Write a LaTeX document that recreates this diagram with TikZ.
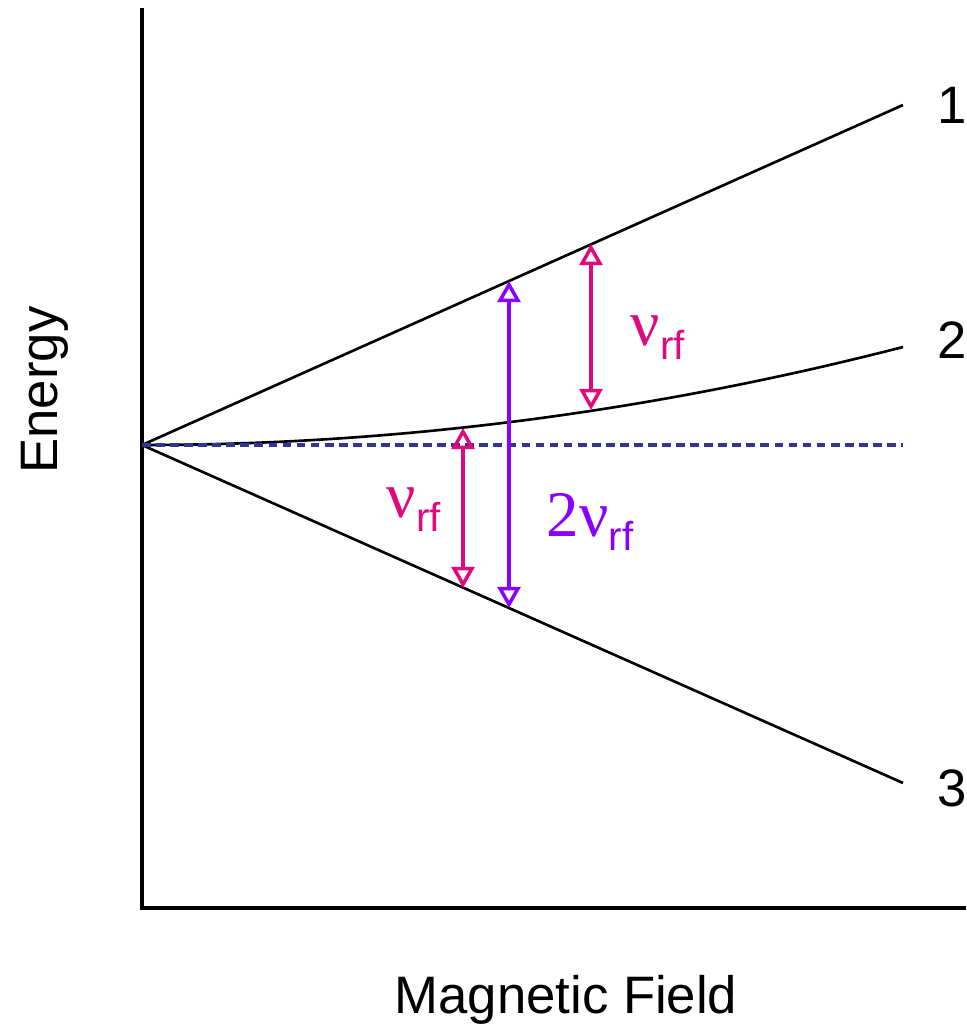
\documentclass[tikz,border=0pt]{standalone}
\usepackage{fontspec}
\setmainfont{Liberation Sans}
\newfontfamily\seriffont{Liberation Serif}
\usetikzlibrary{arrows.meta}
\definecolor{rfpink}{HTML}{E0087F}
\definecolor{rfpurple}{HTML}{8A00FF}
\definecolor{zeroblue}{HTML}{333399}
\newcommand{\nusym}{{\fontsize{37}{37}\seriffont ν}}
\newcommand{\rfsub}{\raisebox{-8pt}{\fontsize{23}{23}\selectfont rf}}
\tikzset{
  level/.style={line width=1.5pt},
  trans/.style={line width=2.6pt, {Triangle[open,length=12pt,width=13pt,line width=2pt]}-{Triangle[open,length=12pt,width=13pt,line width=2pt]}},
  lab/.style={font=\fontsize{30}{30}\selectfont}
}
\begin{document}
\begin{tikzpicture}[x=0.02cm, y=-0.02cm]
		\useasboundingbox (0,0) rectangle (966,1033);
		% 坐标轴
		\draw[line width=2.2pt] (142,8) -- (142,908) -- (966,908);
		\coordinate (o) at (142,445);
		% 三条能级
		\draw[level] (o) -- (903,105);
		\draw[level] (o) .. controls (395.7,445) and (649.3,412.3) .. (903,347);
		\draw[level] (o) -- (903,783);
		% 零场虚线
		\draw[zeroblue, line width=2.2pt, dash pattern=on 5pt off 3pt] (o) -- (903,445);
		% 跃迁
		\coordinate (a1) at (591,244);
		\coordinate (a2) at (591,410);
		\coordinate (b1) at (509,281);
		\coordinate (b2) at (509,608);
		\coordinate (c1) at (463,428);
		\coordinate (c2) at (463,588);
		\draw[trans, rfpink] (a1) -- (a2);
		\draw[trans, rfpurple] (b1) -- (b2);
		\draw[trans, rfpink] (c1) -- (c2);
		% 标注
		\node[rfpink] (nu1) at (658,338) {\nusym\rfsub};
		\node[rfpink] (nu2) at (414,510) {\nusym\rfsub};
		\node[rfpurple] (nu3) at (590,522) {{\fontsize{37}{37}\seriffont 2ν}\rfsub};
		\node[lab] (l1) at (952,105) {1};
		\node[lab] (l2) at (952,340) {2};
		\node[lab] (l3) at (952,788) {3};
		\node[lab, rotate=90] (ey) at (45,390) {Energy};
		\node[lab] (mf) at (566,1000) {Magnetic Field};
		\end{tikzpicture}
\end{document}
